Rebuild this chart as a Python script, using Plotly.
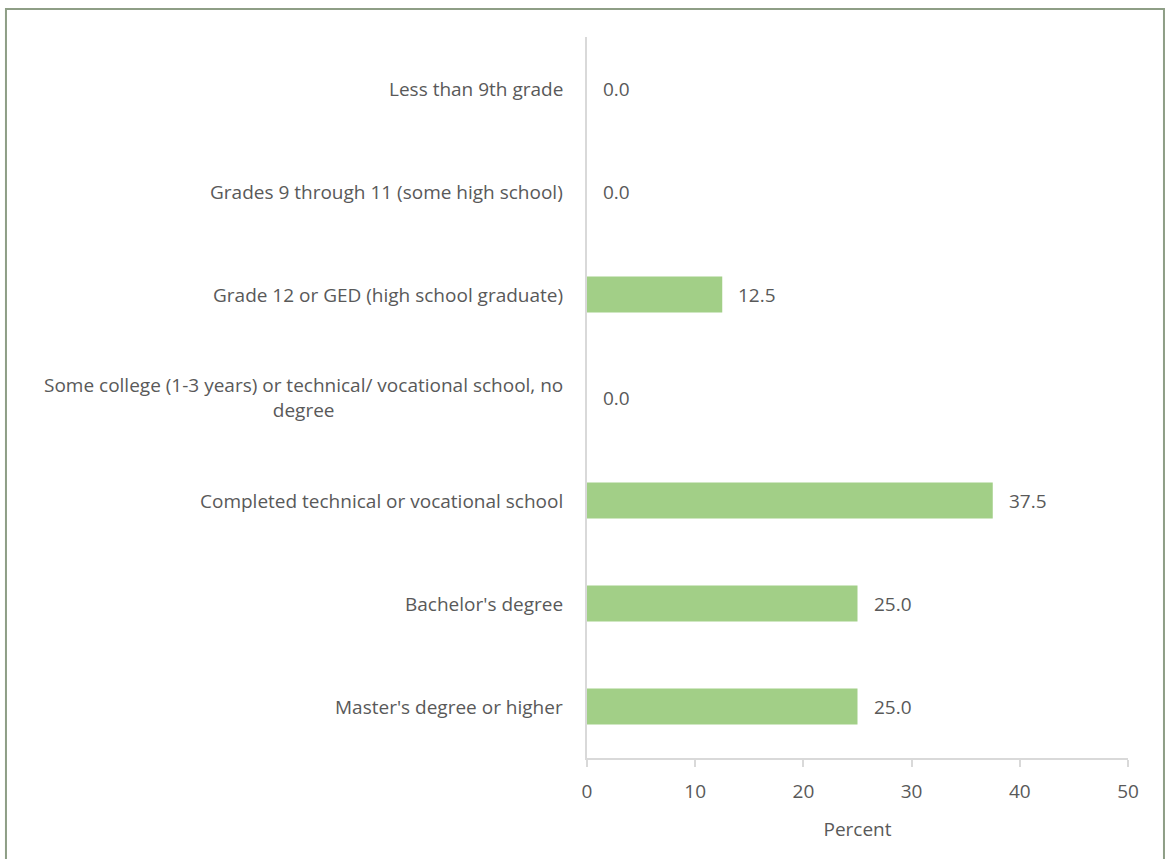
import plotly.graph_objects as go

categories = [
    "Less than 9th grade",
    "Grades 9 through 11 (some high school)",
    "Grade 12 or GED (high school graduate)",
    "Some college (1-3 years) or technical/ vocational school, no<br>degree",
    "Completed technical or vocational school",
    "Bachelor's degree",
    "Master's degree or higher",
]
values = [0.0, 0.0, 12.5, 0.0, 37.5, 25.0, 25.0]
x_ticks = [0, 10, 20, 30, 40, 50]

FONT = "Open Sans"
GREY = "#595959"
FS = 19

fig = go.Figure()
fig.add_trace(go.Bar(
    x=values, y=categories, orientation="h",
    marker=dict(color="#A2CF87", line=dict(width=0)),
    hoverinfo="skip",
))

# value labels
for c, v in zip(categories, values):
    fig.add_annotation(x=v, y=c, xref="x", yref="y", text=f"{v:.1f}",
                       showarrow=False, xanchor="left", xshift=14,
                       font=dict(family=FONT, size=FS, color=GREY))
# category labels
for c in categories:
    fig.add_annotation(x=0, y=c, xref="paper", yref="y", text=c,
                       showarrow=False, xanchor="right", xshift=-22,
                       align="center",
                       font=dict(family=FONT, size=FS, color=GREY))

# chart border
fig.add_shape(type="rect", xref="paper", yref="paper",
              x0=-1.074, x1=1.0665, y0=-0.3, y1=1.0388,
              line=dict(color="#8E9E86", width=2), fillcolor="rgba(0,0,0,0)")

fig.update_layout(
    width=1167, height=859,
    margin=dict(l=587, r=39, t=37, b=101),
    paper_bgcolor="white", plot_bgcolor="white",
    showlegend=False,
    bargap=0.65,
    font=dict(family=FONT, size=FS, color=GREY),
    xaxis=dict(
        range=[0, 50], tickvals=x_ticks, ticktext=[str(t) for t in x_ticks],
        showgrid=False, zeroline=False,
        showline=True, linecolor="#D9D9D9", linewidth=1.5,
        ticks="outside", ticklen=7, tickcolor="#D9D9D9", tickwidth=1.5,
        ticklabelstandoff=8,
        tickfont=dict(family=FONT, size=FS, color=GREY),
        title=dict(text="Percent", standoff=20,
                   font=dict(family=FONT, size=FS, color=GREY)),
        fixedrange=True,
    ),
    yaxis=dict(
        categoryorder="array", categoryarray=categories[::-1],
        showticklabels=False, showgrid=False, zeroline=False,
        showline=True, linecolor="#D9D9D9", linewidth=1.5, ticks="",
        fixedrange=True,
    ),
)

fig.write_html("out.html", config={"displayModeBar": False},
               post_script="document.body.style.margin='0';document.body.style.overflow='hidden';")
